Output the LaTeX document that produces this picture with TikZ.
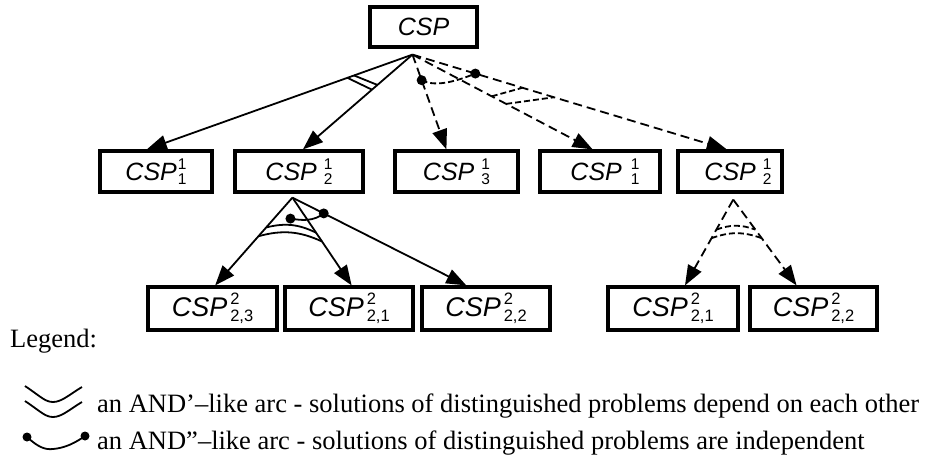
\documentclass[tikz,border=0pt]{standalone}
\usepackage{fontspec}
\setmainfont{Liberation Serif}
\newfontfamily\cspfont{Liberation Sans}
\usetikzlibrary{arrows.meta,calc}

% CSP with an upper and a lower index; #3 is the gap before the indices
\newcommand\idxsize{15.5}
\newcommand\cspname[3]{\textit{CSP}\hspace{#3}%
  \rlap{\raisebox{.44em}{\fontsize{\idxsize}{\idxsize}\selectfont #1}}%
  \raisebox{-.17em}{\fontsize{\idxsize}{\idxsize}\selectfont #2}}

\tikzset{
  box/.style={draw, line width=3.2pt, inner sep=0pt, minimum height=41pt,
              font=\cspfont\fontsize{25}{30}\selectfont},
  lowbox/.style={box, minimum height=43pt,
              font=\cspfont\fontsize{27}{32}\selectfont\renewcommand\idxsize{16.5}},
  link/.style={line width=1.8pt, -{Triangle[length=20pt,width=15pt]}},
  dlink/.style={link, dash pattern=on 9pt off 5pt},
  andmark/.style={line width=1.8pt},
  dandmark/.style={line width=1.8pt, dash pattern=on 6pt off 3pt},
  anddot/.style={circle, fill, inner sep=0pt, minimum size=10pt},
  legtext/.style={anchor=base west, inner sep=0pt, font=\fontsize{26.5}{31}\selectfont},
}

\begin{document}
\begin{tikzpicture}[x=1pt, y=-1pt]
\useasboundingbox (0,0) rectangle (944,460);

% root
\node[box, minimum width=107pt, minimum height=40pt] (csp) at (423.5,27) {\textit{CSP}};

% first level
\node[box, minimum width=112pt] (n11)  at (156,171.5)   {\cspname{1}{1}{1pt}};
\node[box, minimum width=128pt] (n12)  at (299,171.5)   {\cspname{1}{2}{7pt}};
\node[box, minimum width=123pt] (n13)  at (456.5,171.5) {\cspname{1}{3}{7pt}};
\node[box, minimum width=120pt] (n11b) at (600,171.5)   {\hspace{10pt}\cspname{1}{1}{9pt}};
\node[box, minimum width=104pt] (n12b) at (730,171.5)   {\hspace{16pt}\cspname{1}{2}{7pt}};

% second level
\node[lowbox, minimum width=129pt] (m23) at (212.5,308.5) {\cspname{2}{2,3}{3pt}};
\node[lowbox, minimum width=128pt] (m21) at (349,308.5)   {\cspname{2}{2,1}{3pt}};
\node[lowbox, minimum width=128pt] (m22) at (486,308.5)   {\cspname{2}{2,2}{3pt}};
\node[lowbox, minimum width=130pt] (r21) at (673,308.5)   {\cspname{2}{2,1}{3pt}};
\node[lowbox, minimum width=127pt] (r22) at (813.5,308.5) {\cspname{2}{2,2}{3pt}};

% fan apexes below the parent boxes
\coordinate (a0)   at ($(csp.south west)!0.40!(csp.south east)+(0,6)$);
\coordinate (a12)  at ($(n12.south west)!0.45!(n12.south east)+(0,4)$);
\coordinate (a12b) at ($(n12b.south west)!0.53!(n12b.south east)+(0,6)$);

% arrow ends on the top edges of the children
\coordinate (t11)  at ($(n11.north west)!0.42!(n11.north east)$);
\coordinate (t12)  at ($(n12.north west)!0.53!(n12.north east)$);
\coordinate (t13)  at ($(n13.north west)!0.42!(n13.north east)$);
\coordinate (t11b) at ($(n11b.north west)!0.44!(n11b.north east)$);
\coordinate (t12b) at ($(n12b.north west)!0.47!(n12b.north east)$);
\coordinate (t23)  at ($(m23.north west)!0.52!(m23.north east)$);
\coordinate (t21)  at ($(m21.north west)!0.52!(m21.north east)$);
\coordinate (t22)  at ($(m22.north west)!0.35!(m22.north east)$);
\coordinate (u21)  at ($(r21.north west)!0.59!(r21.north east)$);
\coordinate (u22)  at ($(r22.north west)!0.37!(r22.north east)$);

% root decomposition
\draw[link]  (a0) -- (t11);
\draw[link]  (a0) -- (t12);
\draw[dlink] (a0) -- (t13);
\draw[dlink] (a0) -- (t11b);
\draw[dlink] (a0) -- (t12b);

% AND' arc across the two solid branches
\draw[andmark] ($(a0)!0.22!(t11)$)  -- ($(a0)!0.32!(t12)$);
\draw[andmark] ($(a0)!0.245!(t11)$) -- ($(a0)!0.37!(t12)$);

% AND' arc across the two right dashed branches
\draw[dandmark] ($(a0)!0.44!(t11b)$) -- ($(a0)!0.35!(t12b)$);
\draw[dandmark] ($(a0)!0.52!(t11b)$) -- ($(a0)!0.45!(t12b)$);

% AND'' arc between the dashed branches
\node[anddot] (d1) at ($(a0)!0.27!(t13)$) {};
\node[anddot] (d2) at ($(a0)!0.20!(t12b)$) {};
\draw[dandmark] (d1.center) .. controls +(15,8) and +(-15,6) .. (d2.center);

% decomposition of the left CSP^1_2
\draw[link] (a12) -- (t23);
\draw[link] (a12) -- (t21);
\draw[link] (a12) -- (t22);
\draw[andmark] ($(a12)!0.34!(t23)$) to[bend left=20] ($(a12)!0.40!(t21)$);
\draw[andmark] ($(a12)!0.44!(t23)$) to[bend left=20] ($(a12)!0.50!(t21)$);
\node[anddot] (d3) at ($(a12)+(-2,21)$) {};
\node[anddot] (d4) at ($(a12)!0.18!(t22)$) {};
\draw[andmark] (d3.center) .. controls +(12,2) and +(-10,8) .. (d4.center);

% decomposition of the right CSP^1_2
\draw[dlink] (a12b) -- (u21);
\draw[dlink] (a12b) -- (u22);
\draw[dandmark] ($(a12b)!0.35!(u21)$) to[bend left=20] ($(a12b)!0.35!(u22)$);
\draw[dandmark] ($(a12b)!0.45!(u21)$) to[bend left=20] ($(a12b)!0.45!(u22)$);

% legend
\node[legtext] (leg) at (10,347) {Legend:};
\draw[andmark] (25,386) .. controls (40,396) and (45,402) .. (53,402) .. controls (62,402) and (70,394) .. (82,387);
\draw[andmark] (25,401) .. controls (40,411) and (45,417) .. (53,417) .. controls (62,417) and (70,409) .. (82,402);
\node[legtext] (l1) at (97,412) {an AND’–like arc - solutions of distinguished problems depend on each other};
\node[anddot, minimum size=9pt] (e1) at (27,437) {};
\node[anddot, minimum size=9pt] (e2) at (85,436) {};
\draw[andmark] (e1.center) .. controls (38,447) and (45,450) .. (53,449) .. controls (65,448) and (75,443) .. (e2.center);
\node[legtext] (l2) at (97,449) {an AND”–like arc - solutions of distinguished problems are independent};
\end{tikzpicture}
\end{document}
